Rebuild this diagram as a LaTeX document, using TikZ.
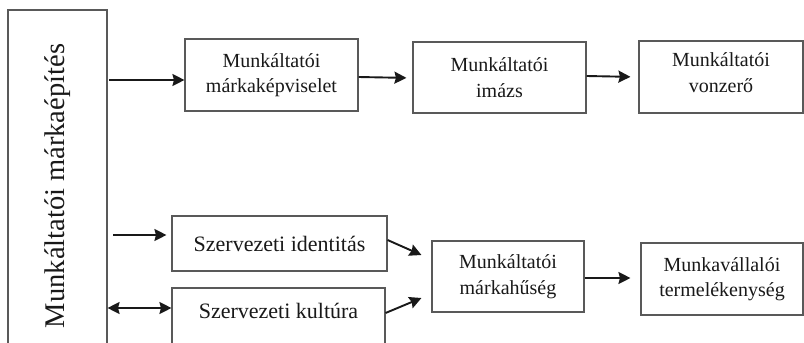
\documentclass[tikz,border=0pt]{standalone}
\usepackage{fontspec}
\setmainfont{Liberation Serif}
\usetikzlibrary{arrows.meta}
\begin{document}
\begin{tikzpicture}[x=1pt,y=-1pt,
  box/.style={draw=black!65,line width=1.1pt,rectangle,inner sep=0pt,align=center,font=\fontsize{20}{25.5}\selectfont,text=black!90},
  big/.style={font=\fontsize{22}{26}\selectfont,text=black!90},
  arr/.style={line width=1.9pt,draw=black!90,-{Stealth[length=12pt,width=12pt,inset=1.5pt]}},
  darr/.style={line width=1.9pt,draw=black!90,{Stealth[length=12pt,width=12pt,inset=1.5pt]}-{Stealth[length=12pt,width=12pt,inset=1.5pt]}}]
\useasboundingbox (0,0) rectangle (804,343);
\clip (0,0) rectangle (804,343);
\fill[white] (0,0) rectangle (804,343);
% left tall box
\node[box,minimum width=99pt,minimum height=352pt] (L) at (57.5,186)
  {\rotatebox{90}{\fontsize{28.5}{32}\selectfont Munkáltatói márkaépítés}};
% top row
\node[box,minimum width=173pt,minimum height=72pt] (b1) at (271.5,75) {Munkáltatói\\márkaképviselet};
\node[box,minimum width=173pt,minimum height=71pt] (b2) at (499.5,77.5) {Munkáltatói\\imázs};
\node[box,minimum width=164pt,minimum height=72pt] (b3) at (721,77) {};
\node[align=center,font=\fontsize{20}{25.5}\selectfont,text=black!90] (t3) at (721,72.5) {Munkáltatói\\vonzerő};
% bottom
\node[box,big,minimum width=215pt,minimum height=55pt] (b4) at (279.5,243.5) {Szervezeti identitás};
\node[box,minimum width=213pt,minimum height=72pt] (b5) at (278.5,324) {};
\node[big,anchor=base] (t5) at (278.5,318) {Szervezeti kultúra};
\node[box,minimum width=152pt,minimum height=71pt] (b6) at (508,276.5) {Munkáltatói\\márkahűség};
\node[box,minimum width=162pt,minimum height=72pt] (b7) at (722,279) {Munkavállalói\\termelékenység};
% arrows
\draw[arr,shorten <=1.5pt] (L.east |- 0,80) -- (b1.west |- 0,80);
\draw[arr,shorten >=6pt] (b1.east |- 0,77) -- (b2.west |- 0,78);
\draw[arr,shorten >=8pt] (b2.east |- 0,76) -- (b3.west |- 0,77);
\draw[arr,shorten <=5.5pt,shorten >=5pt] (L.east |- 0,235) -- (b4.west |- 0,235);
\draw[darr] (L.east |- 0,308) -- (b5.west |- 0,308);
\draw[arr] (b4.east |- 0,240) -- ([xshift=-10pt]b6.west |- 0,255);
\draw[arr] (b5.east |- 0,313) -- ([xshift=-10pt]b6.west |- 0,298);
\draw[arr,shorten >=10pt] (b6.east |- 0,278) -- (b7.west |- 0,278);
\end{tikzpicture}
\end{document}
